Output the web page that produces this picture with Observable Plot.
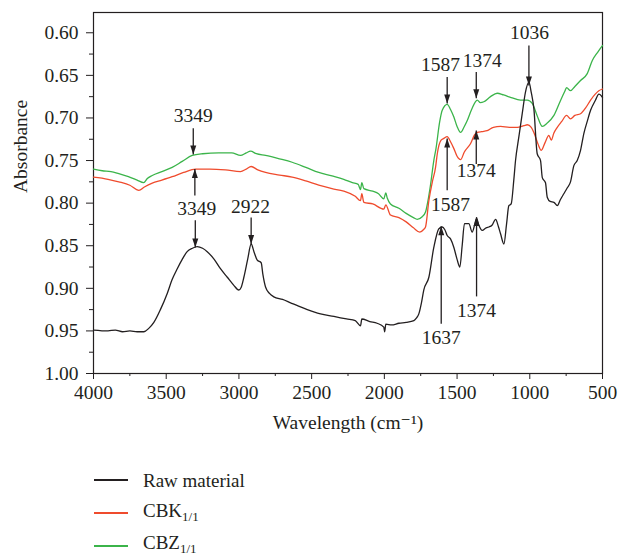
<!DOCTYPE html>
<html>
<head>
<meta charset="utf-8">
<script src="https://cdn.jsdelivr.net/npm/d3@7"></script>
<script src="https://cdn.jsdelivr.net/npm/@observablehq/plot@0.6"></script>
<style>
  body { margin: 0; background: #fff; font-family: "Liberation Serif", "DejaVu Serif", serif; color: #231f20; }
  #wrap { position: relative; width: 619px; height: 557px; overflow: hidden; }
  .lg-line { position: absolute; left: 94px; width: 34px; height: 1.5px; }
  .lg-text { position: absolute; left: 143px; font-size: 19px; line-height: 19px; white-space: nowrap; }
  .lg-text sub { font-size: 13px; vertical-align: -4px; line-height: 1; }
</style>
</head>
<body>
<div id="wrap">
  <div id="chart"></div>
</div>
<script>
// ---- data (wavenumber cm^-1, absorbance) ----
const rawMaterial = [[4000,0.949],[3900,0.950],[3850,0.949],[3800,0.951],[3750,0.950],[3700,0.951],[3654,0.951],[3620,0.947],[3585,0.940],[3540,0.925],[3493,0.906],[3460,0.890],[3424,0.877],[3390,0.866],[3356,0.857],[3320,0.853],[3287,0.851],[3250,0.853],[3218,0.857],[3170,0.866],[3127,0.877],[3080,0.887],[3035,0.8965],[3001,0.902],[2985,0.899],[2966,0.887],[2940,0.866],[2916,0.848],[2895,0.858],[2874,0.867],[2847,0.870],[2835,0.884],[2817,0.8985],[2790,0.906],[2760,0.910],[2700,0.913],[2645,0.917],[2590,0.921],[2530,0.925],[2480,0.928],[2439,0.930],[2347,0.933],[2260,0.936],[2200,0.938],[2164,0.944],[2155,0.936],[2100,0.939],[2050,0.941],[2004,0.9455],[1998,0.951],[1990,0.942],[1950,0.943],[1900,0.941],[1850,0.940],[1797,0.938],[1780,0.935],[1763,0.930],[1745,0.917],[1729,0.902],[1694,0.887],[1660,0.852],[1625,0.830],[1602,0.828],[1585,0.831],[1568,0.838],[1545,0.842],[1522,0.852],[1500,0.866],[1481,0.875],[1465,0.850],[1449,0.824],[1419,0.824],[1396,0.834],[1380,0.826],[1366,0.818],[1350,0.826],[1327,0.832],[1300,0.829],[1282,0.828],[1260,0.826],[1235,0.819],[1215,0.828],[1201,0.836],[1178,0.848],[1160,0.825],[1144,0.803],[1128,0.801],[1110,0.773],[1098,0.750],[1075,0.722],[1052,0.695],[1030,0.670],[1006,0.658],[990,0.670],[972,0.689],[949,0.742],[926,0.750],[914,0.770],[892,0.776],[880,0.793],[860,0.798],[834,0.799],[811,0.803],[790,0.796],[766,0.789],[742,0.782],[720,0.775],[697,0.756],[674,0.750],[651,0.738],[628,0.718],[605,0.704],[582,0.691],[548,0.679],[525,0.672],[508,0.674],[500,0.676]];

const cbk = [[4000,0.7695],[3900,0.772],[3826,0.775],[3750,0.779],[3688,0.785],[3650,0.781],[3596,0.7765],[3530,0.773],[3459,0.769],[3380,0.764],[3298,0.760],[3200,0.760],[3092,0.761],[2989,0.763],[2950,0.760],[2916,0.757],[2870,0.761],[2817,0.764],[2720,0.767],[2634,0.7695],[2540,0.774],[2451,0.779],[2360,0.783],[2279,0.786],[2200,0.792],[2164,0.797],[2155,0.789],[2141,0.799],[2080,0.801],[2004,0.807],[1990,0.802],[1958,0.814],[1900,0.817],[1850,0.822],[1800,0.829],[1756,0.834],[1730,0.831],[1717,0.828],[1694,0.797],[1670,0.775],[1648,0.758],[1636,0.742],[1610,0.726],[1591,0.724],[1568,0.722],[1545,0.728],[1522,0.736],[1500,0.745],[1476,0.749],[1450,0.740],[1407,0.730],[1380,0.720],[1361,0.717],[1330,0.716],[1293,0.715],[1250,0.711],[1201,0.710],[1140,0.711],[1086,0.711],[1040,0.709],[1017,0.708],[990,0.711],[972,0.717],[945,0.730],[921,0.738],[895,0.729],[869,0.7205],[852,0.726],[835,0.718],[811,0.711],[780,0.704],[747,0.697],[720,0.701],[690,0.697],[651,0.695],[615,0.688],[582,0.679],[550,0.672],[525,0.668],[500,0.666]];

const cbz = [[4000,0.760],[3940,0.762],[3880,0.763],[3826,0.7655],[3760,0.769],[3700,0.773],[3655,0.776],[3630,0.771],[3596,0.7675],[3530,0.763],[3459,0.758],[3390,0.751],[3321,0.744],[3250,0.742],[3138,0.741],[3050,0.741],[2989,0.744],[2950,0.741],[2920,0.739],[2880,0.742],[2817,0.744],[2720,0.748],[2634,0.752],[2540,0.758],[2451,0.764],[2360,0.768],[2279,0.772],[2220,0.776],[2180,0.778],[2164,0.784],[2155,0.776],[2141,0.783],[2080,0.786],[2040,0.789],[2004,0.795],[1990,0.788],[1980,0.794],[1958,0.801],[1900,0.806],[1850,0.812],[1800,0.817],[1774,0.819],[1740,0.816],[1717,0.8105],[1700,0.797],[1683,0.779],[1660,0.750],[1645,0.736],[1620,0.705],[1602,0.691],[1568,0.684],[1545,0.690],[1522,0.699],[1500,0.710],[1476,0.717],[1450,0.710],[1430,0.703],[1400,0.690],[1361,0.679],[1340,0.682],[1316,0.681],[1270,0.675],[1224,0.671],[1180,0.673],[1128,0.676],[1064,0.679],[1017,0.679],[983,0.683],[950,0.697],[914,0.710],[880,0.706],[834,0.697],[790,0.680],[760,0.669],[747,0.6645],[720,0.668],[690,0.663],[651,0.656],[605,0.648],[570,0.6325],[530,0.622],[500,0.615]];

const seriesNames = ["Raw material", "CBK", "CBZ"];
const xTicks = [4000, 3500, 3000, 2500, 2000, 1500, 1000, 500];
const xMinorTicks = [3750, 3250, 2750, 2250, 1750, 1250, 750];
const yTicks = [0.60, 0.65, 0.70, 0.75, 0.80, 0.85, 0.90, 0.95, 1.00];
const yMinorTicks = [0.625, 0.675, 0.725, 0.775, 0.825, 0.875, 0.925, 0.975];

const peakLabels = [
  {text: "3349", x: 3314, y: 0.697},
  {text: "3349", x: 3290, y: 0.807},
  {text: "2922", x: 2920, y: 0.804},
  {text: "1587", x: 1614, y: 0.638},
  {text: "1374", x: 1327, y: 0.6325},
  {text: "1036", x: 1002, y: 0.600},
  {text: "1374", x: 1368, y: 0.7616},
  {text: "1587", x: 1545, y: 0.8015},
  {text: "1637", x: 1609, y: 0.958},
  {text: "1374", x: 1366, y: 0.926}
];
const peakArrows = [
  {x: 3314, from: 0.712, to: 0.743},
  {x: 3303, from: 0.791, to: 0.760},
  {x: 3300, from: 0.820, to: 0.852},
  {x: 2916, from: 0.817, to: 0.848},
  {x: 1568, from: 0.652, to: 0.683},
  {x: 1368, from: 0.646, to: 0.677},
  {x: 1006, from: 0.615, to: 0.662},
  {x: 1368, from: 0.754, to: 0.7146},
  {x: 1568, from: 0.785, to: 0.724},
  {x: 1609, from: 0.9415, to: 0.827},
  {x: 1366, from: 0.9095, to: 0.8164}
];

const ink = "#231f20";
const colors = {"Raw material": "#231f20", "CBK": "#ef4b2d", "CBZ": "#3bb44a"};

const headDown = {draw(c) { c.moveTo(0, 0); c.lineTo(-3, -9); c.lineTo(3, -9); c.closePath(); }};
const headUp = {draw(c) { c.moveTo(0, 0); c.lineTo(-3, 9); c.lineTo(3, 9); c.closePath(); }};

const chart = Plot.plot({
  width: 619,
  height: 440,
  marginTop: 12,
  marginLeft: 93,
  marginRight: 17,
  marginBottom: 67,
  style: {fontFamily: "'Liberation Serif', 'DejaVu Serif', serif", fontSize: "19.5px", color: ink, background: "#fff"},
  x: {domain: [4000, 500]},
  y: {domain: [1.0, 0.5762]},
  marks: [
    Plot.frame({stroke: ink, strokeWidth: 1.2}),
    Plot.axisX(xTicks, {tickSize: 6, tickPadding: 6, tickFormat: d => String(d), label: null, stroke: ink, fill: ink}),
    Plot.axisX(xMinorTicks, {tickSize: 3, tickFormat: () => "", label: null, stroke: ink}),
    Plot.axisY(yTicks, {tickSize: 7, tickPadding: 8, tickFormat: d3.format(".2f"), label: null, stroke: ink, fill: ink}),
    Plot.axisY(yMinorTicks, {tickSize: 4, tickFormat: () => "", label: null, stroke: ink}),
    Plot.text(["Wavelength (cm\u207B\u00B9)"], {frameAnchor: "bottom", dy: 55, fill: ink}),
    Plot.text(["Absorbance"], {frameAnchor: "left", dx: -73, rotate: -90, fill: ink}),
    Plot.line(cbz, {x: d => d[0], y: d => d[1], stroke: colors["CBZ"], strokeWidth: 1.3, curve: "monotone-x"}),
    Plot.line(cbk, {x: d => d[0], y: d => d[1], stroke: colors["CBK"], strokeWidth: 1.3, curve: "monotone-x"}),
    Plot.line(rawMaterial, {x: d => d[0], y: d => d[1], stroke: colors["Raw material"], strokeWidth: 1.3, curve: "monotone-x"}),
    Plot.link(peakArrows, {x1: "x", x2: "x", y1: "from", y2: "to", stroke: ink, strokeWidth: 1.3}),
    Plot.dot(peakArrows.filter(d => d.to > d.from), {x: "x", y: "to", symbol: headDown, fill: ink, stroke: null}),
    Plot.dot(peakArrows.filter(d => d.to < d.from), {x: "x", y: "to", symbol: headUp, fill: ink, stroke: null}),
    Plot.text(peakLabels, {x: "x", y: "y", text: "text", fill: ink, fontSize: 19.5})
  ]
});
document.getElementById("chart").appendChild(chart);

// ---- legend (HTML, below the SVG) ----
const wrap = document.getElementById("wrap");
const legendRows = [
  {name: seriesNames[0], html: "Raw material", lineY: 480, textTop: 471},
  {name: seriesNames[1], html: "CBK<sub>1/1</sub>", lineY: 513, textTop: 501},
  {name: seriesNames[2], html: "CBZ<sub>1/1</sub>", lineY: 546, textTop: 533}
];
for (const r of legendRows) {
  const l = document.createElement("div");
  l.className = "lg-line";
  l.style.top = (r.lineY - 0.75) + "px";
  l.style.background = colors[r.name];
  wrap.appendChild(l);
  const t = document.createElement("div");
  t.className = "lg-text";
  t.style.top = r.textTop + "px";
  t.innerHTML = r.html;
  wrap.appendChild(t);
}
</script>
</body>
</html>
